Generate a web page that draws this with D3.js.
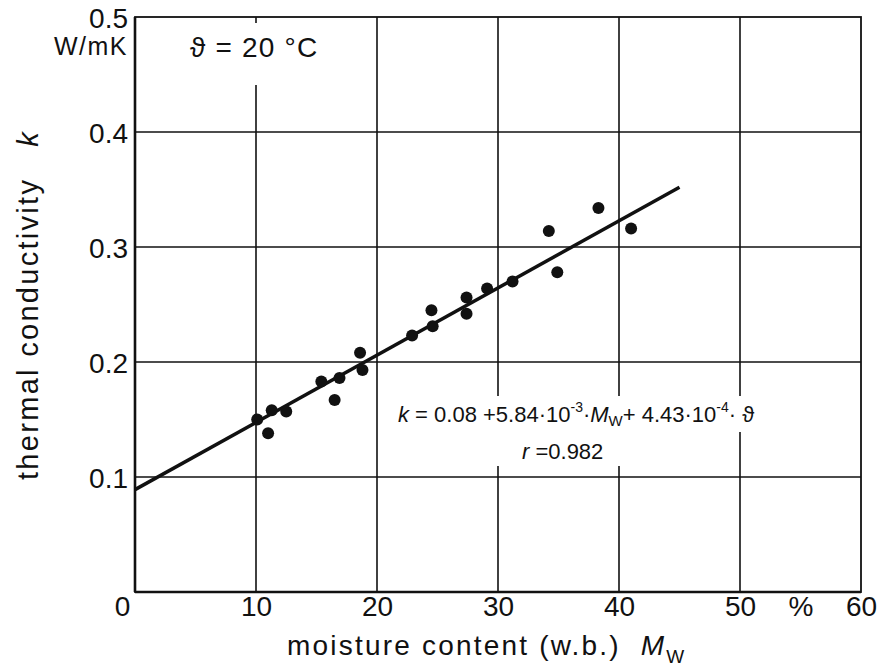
<!DOCTYPE html>
<html>
<head>
<meta charset="utf-8">
<script src="https://cdn.jsdelivr.net/npm/d3@7"></script>
<style>
  body { margin: 0; background: #fff; }
  text { font-family: "Liberation Sans", Arial, sans-serif; fill: #111; }
</style>
</head>
<body>
<script>
const WIDTH = 885;
const HEIGHT = 670;

// data
const moisture = [10.1, 11.0, 11.3, 12.5, 15.4, 16.5, 16.9, 18.6, 18.8, 22.9,
    24.5, 24.6, 27.4, 27.4, 29.1, 31.2, 34.2, 34.9, 38.3, 41.0];
const conductivity = [0.150, 0.138, 0.158, 0.157, 0.183, 0.167, 0.186, 0.208, 0.193, 0.223,
    0.245, 0.231, 0.256, 0.242, 0.264, 0.270, 0.314, 0.278, 0.334, 0.316];
const fitX = [0, 45];
const fitY = [0.089, 0.352];
const xTicks = [0, 10, 20, 30, 40, 50, 60];
const yTicks = [0.1, 0.2, 0.3, 0.4, 0.5];

const svg = d3.select("body")
    .append("svg")
    .attr("width", WIDTH)
    .attr("height", HEIGHT);

const x = d3.scaleLinear().domain([0, 60]).range([135, 861]);
const y = d3.scaleLinear().domain([0, 0.5]).range([592, 17]);

// grid
const grid = svg.append("g").attr("stroke", "#111").attr("stroke-width", 1.6);
grid.selectAll("line.v")
    .data(xTicks.filter(d => d > 0 && d < 60))
    .join("line")
    .attr("class", "v")
    .attr("x1", d => x(d)).attr("x2", d => x(d))
    .attr("y1", y(0.5)).attr("y2", y(0));
grid.selectAll("line.h")
    .data(yTicks.filter(d => d < 0.5))
    .join("line")
    .attr("class", "h")
    .attr("x1", x(0)).attr("x2", x(60))
    .attr("y1", d => y(d)).attr("y2", d => y(d));

// frame
svg.append("rect")
    .attr("x", x(0)).attr("y", y(0.5))
    .attr("width", x(60) - x(0)).attr("height", y(0) - y(0.5))
    .attr("fill", "none").attr("stroke", "#111").attr("stroke-width", 1.8);
svg.append("line")
    .attr("x1", x(0)).attr("x2", x(0)).attr("y1", y(0.5)).attr("y2", y(0))
    .attr("stroke", "#111").attr("stroke-width", 2.6);
svg.append("line")
    .attr("x1", x(0)).attr("x2", x(60)).attr("y1", y(0)).attr("y2", y(0))
    .attr("stroke", "#111").attr("stroke-width", 2.6);

// white knock-outs behind the notes
svg.append("rect").attr("x", 180).attr("y", y(0.5) + 6).attr("width", 160).attr("height", 62).attr("fill", "#fff");
svg.append("rect").attr("x", 390).attr("y", 396).attr("width", 380).attr("height", 36).attr("fill", "#fff");
svg.append("rect").attr("x", 482).attr("y", 432).attr("width", 158).attr("height", 34).attr("fill", "#fff");

// axes labels
const xAxis = d3.axisBottom(x).tickValues(xTicks).tickSize(0).tickPadding(0)
    .tickFormat(d3.format("d"));
const gx = svg.append("g").attr("transform", `translate(0, ${y(0) + 17})`).call(xAxis);
gx.select(".domain").remove();
gx.selectAll("text")
    .attr("font-size", 28)
    .attr("dy", "0.0em")
    .attr("dx", d => d === 0 ? -13 : 0)
    .attr("dominant-baseline", "middle");
svg.append("text")
    .attr("x", 801).attr("y", y(0) + 17)
    .attr("font-size", 28).attr("text-anchor", "middle")
    .attr("dominant-baseline", "middle")
    .text("%");

const yAxis = d3.axisLeft(y).tickValues(yTicks).tickSize(0).tickPadding(0)
    .tickFormat(d3.format(".1f"));
const gy = svg.append("g").attr("transform", `translate(${x(0) - 7}, 0)`).call(yAxis);
gy.select(".domain").remove();
gy.selectAll("text")
    .attr("font-size", 28)
    .attr("dy", "0.36em");
svg.append("text")
    .attr("x", 128).attr("y", 48)
    .attr("font-size", 25).attr("letter-spacing", 1.5).attr("text-anchor", "end")
    .attr("dominant-baseline", "middle")
    .text("W/mK");

// axis titles
const xt = svg.append("text")
    .attr("x", 287).attr("y", 655)
    .attr("font-size", 28).attr("letter-spacing", 2.2);
xt.append("tspan").text("moisture content (w.b.)\u00a0\u00a0");
xt.append("tspan").attr("font-style", "italic").text("M");
xt.append("tspan").attr("font-size", 19).attr("dy", 8).text("W");

const yt = svg.append("text")
    .attr("transform", "translate(38, 480) rotate(-90)")
    .attr("font-size", 29).attr("letter-spacing", 2.3);
yt.append("tspan").text("thermal conductivity\u00a0\u00a0\u00a0");
yt.append("tspan").attr("font-style", "italic").text("k");

// notes
svg.append("text")
    .attr("x", 190).attr("y", 50)
    .attr("font-size", 28).attr("letter-spacing", 1.2).attr("dominant-baseline", "middle")
    .text("ϑ = 20 °C");

const eq = svg.append("text")
    .attr("x", 398).attr("y", 422)
    .attr("font-size", 22);
eq.append("tspan").attr("font-style", "italic").text("k");
eq.append("tspan").text(" = 0.08 +5.84·10");
eq.append("tspan").attr("font-size", 14).attr("dy", -10).text("-3");
eq.append("tspan").attr("dy", 10).text("·");
eq.append("tspan").attr("font-style", "italic").text("M");
eq.append("tspan").attr("font-size", 15).attr("dy", 4).text("W");
eq.append("tspan").attr("dy", -4).text("+ 4.43·10");
eq.append("tspan").attr("font-size", 14).attr("dy", -10).text("-4");
eq.append("tspan").attr("dy", 10).text("· ϑ");

const rt = svg.append("text")
    .attr("x", 522).attr("y", 459)
    .attr("font-size", 22);
rt.append("tspan").attr("font-style", "italic").text("r");
rt.append("tspan").text(" =0.982");

// regression line
svg.append("line")
    .attr("x1", x(fitX[0])).attr("y1", y(fitY[0]))
    .attr("x2", x(fitX[1])).attr("y2", y(fitY[1]))
    .attr("stroke", "#111").attr("stroke-width", 3.5);

// points
svg.append("g")
    .selectAll("circle")
    .data(moisture.map((m, i) => [m, conductivity[i]]))
    .join("circle")
    .attr("cx", d => x(d[0]))
    .attr("cy", d => y(d[1]))
    .attr("r", 6)
    .attr("fill", "#111");
</script>
</body>
</html>
